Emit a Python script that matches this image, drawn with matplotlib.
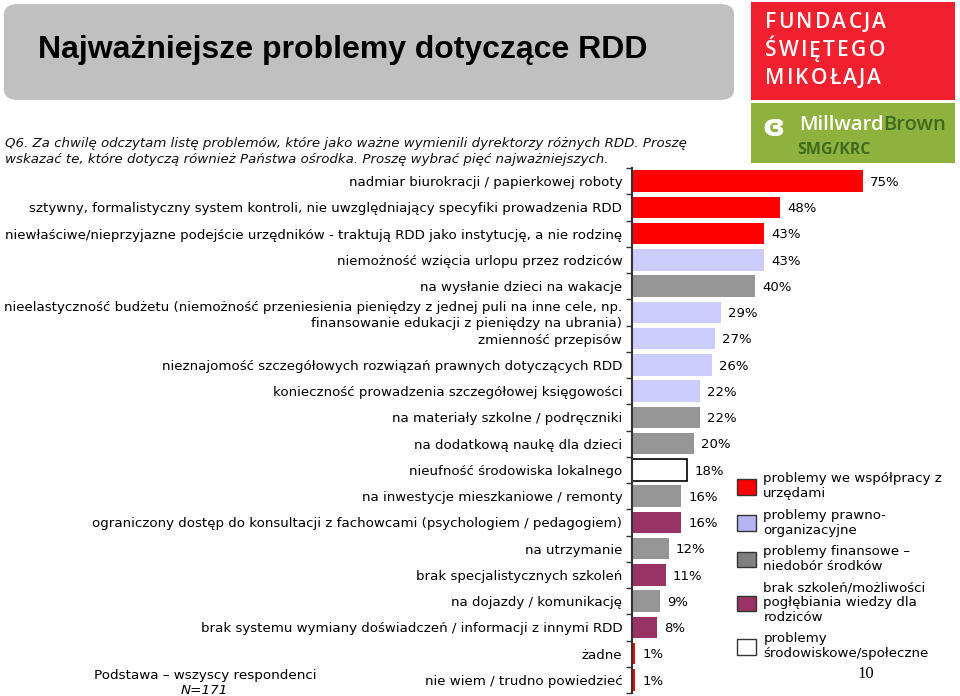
import matplotlib
matplotlib.use("Agg")
import matplotlib.pyplot as plt
from matplotlib.patches import Patch, Rectangle, FancyBboxPatch

# dane
categories = [
    "nadmiar biurokracji / papierkowej roboty",
    "sztywny, formalistyczny system kontroli, nie uwzględniający specyfiki prowadzenia RDD",
    "niewłaściwe/nieprzyjazne podejście urzędników - traktują RDD jako instytucję, a nie rodzinę",
    "niemożność wzięcia urlopu przez rodziców",
    "na wysłanie dzieci na wakacje",
    "nieelastyczność budżetu (niemożność przeniesienia pieniędzy z jednej puli na inne cele, np.\nfinansowanie edukacji z pieniędzy na ubrania)",
    "zmienność przepisów",
    "nieznajomość szczegółowych rozwiązań prawnych dotyczących RDD",
    "konieczność prowadzenia szczegółowej księgowości",
    "na materiały szkolne / podręczniki",
    "na dodatkową naukę dla dzieci",
    "nieufność środowiska lokalnego",
    "na inwestycje mieszkaniowe / remonty",
    "ograniczony dostęp do konsultacji z fachowcami (psychologiem / pedagogiem)",
    "na utrzymanie",
    "brak specjalistycznych szkoleń",
    "na dojazdy / komunikację",
    "brak systemu wymiany doświadczeń / informacji z innymi RDD",
    "żadne",
    "nie wiem / trudno powiedzieć",
]
values = [75, 48, 43, 43, 40, 29, 27, 26, 22, 22, 20, 18, 16, 16, 12, 11, 9, 8, 1, 1]
groups = [0, 0, 0, 1, 2, 1, 1, 1, 1, 2, 2, 4, 2, 3, 2, 3, 2, 3, 0, 0]

group_names = [
    "problemy we współpracy z\nurzędami",
    "problemy prawno-\norganizacyjne",
    "problemy finansowe –\nniedobór środków",
    "brak szkoleń/możliwości\npogłębiania wiedzy dla\nrodziców",
    "problemy\nśrodowiskowe/społeczne",
]
group_colors = ["#FF0000", "#CCCCFF", "#969696", "#993366", "#FFFFFF"]
legend_colors = ["#FF0000", "#B4B4F0", "#808080", "#993366", "#FFFFFF"]

title = "Najważniejsze problemy dotyczące RDD"
question = [
    "Q6. Za chwilę odczytam listę problemów, które jako ważne wymienili dyrektorzy różnych RDD. Proszę",
    "wskazać te, które dotyczą również Państwa ośrodka. Proszę wybrać pięć najważniejszych.",
]
logo_lines = ["FUNDACJA", "ŚWIĘTEGO", "MIKOŁAJA"]

W, H = 960, 696
fig = plt.figure(figsize=(9.6, 6.96), dpi=100)

# naglowek
fig.patches.append(FancyBboxPatch((4 / W, 1 - 100 / H), 730 / W, 96 / H,
                                  boxstyle="round,pad=0,rounding_size=0.015",
                                  transform=fig.transFigure, fc="#C0C0C0", ec="none"))
fig.text(38 / W, 1 - 50 / H, title, fontsize=23, family="Liberation Sans",
         weight="bold", va="center", ha="left", color="black")

# logo fundacji (litery z odstepami)
fig.patches.append(Rectangle((751 / W, 1 - 100 / H), 204 / W, 98 / H,
                             transform=fig.transFigure, fc="#F0202E", ec="none"))
renderer = fig.canvas.get_renderer()
for k, line in enumerate(logo_lines):
    xpos = 765
    for ch in line:
        t = fig.text(xpos / W, 1 - (23 + k * 28) / H, ch, fontsize=15, family="Open Sans",
                     weight="semibold", color="white", va="center", ha="left")
        xpos += t.get_window_extent(renderer).width + 2.2

fig.patches.append(Rectangle((751 / W, 1 - 163 / H), 204 / W, 60 / H,
                             transform=fig.transFigure, fc="#8FB23F", ec="none"))
mw = fig.text(799 / W, 1 - 125 / H, "Millward", fontsize=14.5, family="Open Sans",
              weight="semibold", color="white", va="center", ha="left")
bb = mw.get_window_extent(renderer)
fig.text(bb.x1 / W, 1 - 125 / H, "Brown", fontsize=14.5, family="Open Sans",
         weight="semibold", color="#3E6B1E", va="center", ha="left")
fig.text(797 / W, 1 - 150 / H, "SMG/KRC", fontsize=11.5, family="Open Sans",
         weight="bold", color="#3E6B1E", va="center", ha="left")
fig.text(773 / W, 1 - 127 / H, "ɞ", fontsize=22, weight="bold", color="white",
         va="center", ha="center")

fig.text(5 / W, 1 - 143 / H, question[0], fontsize=9.6, style="italic",
         color="#111111", ha="left", va="center")
fig.text(5 / W, 1 - 159 / H, question[1], fontsize=9.6, style="italic",
         color="#111111", ha="left", va="center")

# wykres
ax = fig.add_axes([632 / W, 1 - 693 / H, 308 / W, 525 / H])
y = list(range(len(categories)))
colors = [group_colors[g] for g in groups]
edges = ["black" if g == 4 else "none" for g in groups]
ax.barh(y, values, height=0.82, color=colors, edgecolor=edges, linewidth=1.2)

for yi, v in zip(y, values):
    ax.text(v + 2.3, yi + 0.05, f"{v}%", fontsize=9.5, va="center", ha="left")

ax.set_xlim(0, 100)
ax.set_ylim(len(categories) - 0.5, -0.5)
ax.set_yticks(y)
ax.set_yticklabels(categories, fontsize=9.6, linespacing=1.3)
ax.set_yticks([i + 0.5 for i in range(-1, len(categories))], minor=True)
ax.tick_params(axis="y", which="major", length=0, pad=7)
ax.tick_params(axis="y", which="minor", length=4, width=1, color="#333333")
ax.set_xticks([])
for s in ["top", "right", "bottom"]:
    ax.spines[s].set_visible(False)
ax.spines["left"].set_linewidth(1.5)
ax.spines["left"].set_color("#333333")
ax.patch.set_alpha(0)

# legenda
handles = [Patch(facecolor=c, edgecolor="#333333", linewidth=1) for c in legend_colors]
fig.legend(handles, group_names, loc="upper left", bbox_to_anchor=(732 / W, 1 - 467 / H),
           frameon=False, fontsize=9.6, handlelength=1.4, handleheight=1.4,
           handletextpad=0.55, labelspacing=0.62, borderaxespad=0)

fig.text(205 / W, 1 - 675 / H, "Podstawa – wszyscy respondenci", fontsize=9.7, ha="center", va="center")
fig.text(204 / W, 1 - 690 / H, "N=171", fontsize=9.7, style="italic", ha="center", va="center")
fig.text(866 / W, 1 - 674 / H, "10", fontsize=12, family="Liberation Serif", ha="center", va="center")

fig.savefig("out.png", dpi=100)
